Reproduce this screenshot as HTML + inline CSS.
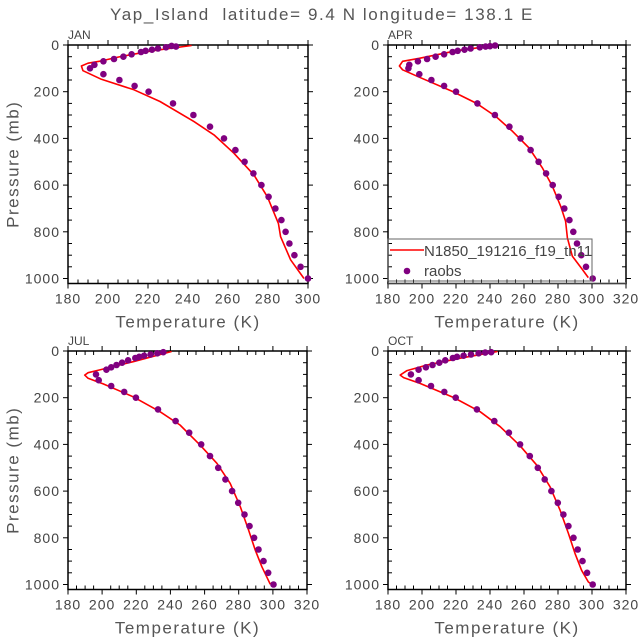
<!DOCTYPE html>
<html><head><meta charset="utf-8"><style>
html,body{margin:0;padding:0;background:#fff;}
svg{display:block;font-family:"Liberation Sans",sans-serif;}
</style></head><body>
<svg id="s" width="643" height="640" xmlns="http://www.w3.org/2000/svg">
<text x="322" y="20" text-anchor="middle" font-size="17" letter-spacing="1.6" fill="#555" xml:space="preserve">Yap_Island  latitude= 9.4 N longitude= 138.1 E</text>
</svg>
<script>
const S=document.getElementById('s');let h='';
const panels=[
{n:'JAN',L:68,R:308,t0:180,t1:300,T:45,
 d:[[300,1000],[296.3,950],[293.2,900],[290.7,850],[288.8,800],[286.7,750],[283.7,700],[280.3,650],[276.7,600],[272.7,550],[268.3,500],[263.7,450],[258,400],[251,350],[242.7,300],[232.5,250],[220.3,200],[213.3,175],[205.7,150],[197.7,125],[191,100],[193.2,85],[197.7,70],[203,60],[207.7,50],[211.8,40],[216.5,30],[218.8,25],[222,20],[225,15],[229,10],[234,7],[231.8,4]],
 l:[[241.8,2],[222,25],[205,52],[196.7,68],[190,78],[186.7,90],[187.5,110],[196.7,147],[213,192],[226,242],[243,328],[253,385],[263,464],[273,557],[279.7,650],[285.2,764],[286.3,821],[291.3,920],[298,1000]]},
{n:'APR',L:388,R:626,t0:180,t1:320,T:45,leg:1,
 d:[[300.4,1000],[296.5,950],[293.7,900],[291.2,850],[289,800],[286.7,750],[283.7,700],[280.4,650],[276.9,600],[273,550],[268.6,500],[263.9,450],[258,400],[251.4,350],[242.9,300],[232.6,250],[220,200],[213,175],[205.5,150],[198.4,125],[192,100],[192.5,85],[197.6,70],[203,60],[208,50],[213,40],[218,30],[221,25],[225,20],[228.6,15],[234,10],[237.4,7],[240,5],[243,2]],
 l:[[244,1],[220,25],[198.4,57],[188.6,70],[186.7,90],[188.6,106],[198.4,138],[218,199],[231.8,249],[243.5,306],[253.3,370],[263,441],[270.9,527],[276.7,605],[281.6,691],[284.5,755],[285.5,826],[288.4,904],[294.3,961],[297.8,996]]},
{n:'JUL',L:68,R:307,t0:180,t1:320,T:351,
 d:[[300.4,1000],[297.3,950],[294.5,900],[291.6,850],[289,800],[286.3,750],[283.4,700],[279.7,650],[276.1,600],[272.2,550],[268,500],[263.2,450],[258,400],[251,350],[243,300],[232.7,250],[219.8,200],[212.9,175],[205.3,150],[198,125],[196.4,100],[202.5,80],[205.3,70],[208.4,60],[211.7,50],[215.2,40],[219.4,30],[221.7,25],[224.6,20],[228.4,15],[232.3,10],[235.8,5]],
 l:[[240.7,2],[218.2,46],[198.6,81],[191.8,93],[189.8,103],[191.8,117],[200.6,141],[218.2,196],[233.9,260],[245.6,317],[257.4,403],[267.2,481],[275,567],[280.9,667],[285.8,767],[289.7,853],[293.6,924],[298.5,999]]},
{n:'OCT',L:388,R:626,t0:180,t1:320,T:351,
 d:[[300.4,1000],[297.1,950],[294.4,900],[291.6,850],[289.1,800],[286.1,750],[283.2,700],[279.9,650],[276.1,600],[272.2,550],[268.1,500],[263.4,450],[257.7,400],[251.1,350],[242.5,300],[232.3,250],[219.8,200],[213.1,175],[205.3,150],[198,125],[193.5,100],[198,80],[202.3,70],[206.2,60],[210.2,50],[213.7,40],[218.2,30],[220.6,25],[224.5,20],[228.8,15],[233.3,10],[237.2,7],[240.7,5]],
 l:[[244.4,2],[222.5,31],[202.9,60],[191.2,84],[187.2,103],[189.2,114],[199,139],[218.6,199],[234.2,260],[246,324],[257.7,406],[267.5,489],[275.3,581],[281.2,681],[286.1,781],[290,867],[293.9,939],[297.8,989],[299.8,1000]]}
];
for(const P of panels){
 const ks=(P.R-P.L)/(P.t1-P.t0), ps=0.2335, B=P.T+238.5;
 const X=t=>P.L+(t-P.t0)*ks, Y=p=>P.T+p*ps;
 for(let t=P.t0;t<=P.t1;t+=5){const x=X(t).toFixed(1);
  if(t%20==0){h+=`<line x1="${x}" y1="${B}" x2="${x}" y2="${B+5}" stroke="#000"/><line x1="${x}" y1="${P.T}" x2="${x}" y2="${P.T-5}" stroke="#000"/>`;
   h+=`<text x="${x}" y="${B+20}" text-anchor="middle" font-size="14" letter-spacing="1" fill="#444">${t}</text>`;}
  else {h+=`<line x1="${x}" y1="${B}" x2="${x}" y2="${B-4}" stroke="#000"/><line x1="${x}" y1="${P.T}" x2="${x}" y2="${P.T+4}" stroke="#000"/>`;}
 }
 for(let p=0;p<=1000;p+=50){const y=Y(p).toFixed(1);
  if(p%200==0){h+=`<line x1="${P.L}" y1="${y}" x2="${P.L-5}" y2="${y}" stroke="#000"/><line x1="${P.R}" y1="${y}" x2="${P.R+5}" y2="${y}" stroke="#000"/>`;
   h+=`<text x="${P.L-8}" y="${(+y)+5}" text-anchor="end" font-size="14" letter-spacing="1" fill="#444">${p}</text>`;}
  else {h+=`<line x1="${P.L}" y1="${y}" x2="${P.L+4}" y2="${y}" stroke="#000"/><line x1="${P.R}" y1="${y}" x2="${P.R-4}" y2="${y}" stroke="#000"/>`;}
 }
 h+=`<rect x="${P.L}" y="${P.T}" width="${P.R-P.L}" height="${B-P.T}" fill="none" stroke="#000" stroke-width="1.5"/>`;
 h+=`<text x="${P.L}" y="${P.T-6}" font-size="12" fill="#444">${P.n}</text>`;
 h+=`<text x="${(P.L+P.R)/2}" y="${B+44}" text-anchor="middle" font-size="17" letter-spacing="1.5" fill="#555">Temperature (K)</text>`;
 if(P.L<100){const cy=(P.T+B)/2;h+=`<text x="14" y="${cy}" transform="rotate(-90 14 ${cy})" text-anchor="middle" dominant-baseline="middle" font-size="17" letter-spacing="1.5" fill="#555">Pressure (mb)</text>`;}
 h+=`<polyline fill="none" stroke="#f00" stroke-width="1.6" stroke-linejoin="round" points="${P.l.map(a=>X(a[0]).toFixed(1)+','+Y(a[1]).toFixed(1)).join(' ')}"/>`;
 for(const a of P.d)h+=`<circle cx="${X(a[0]).toFixed(1)}" cy="${Y(a[1]).toFixed(1)}" r="3.3" fill="#800080"/>`;
 if(P.leg){
  h+=`<rect x="388" y="239" width="204" height="42" fill="none" stroke="#666"/><line x1="388" y1="283" x2="626" y2="283" stroke="#888"/>`;
  h+=`<line x1="390" y1="250" x2="424" y2="250" stroke="#f00" stroke-width="1.6"/>`;
  h+=`<text x="424" y="256" font-size="15" fill="#444">N1850_191216_f19_tn11</text>`;
  h+=`<circle cx="407" cy="271" r="3.3" fill="#800080"/><text x="424" y="276" font-size="15" fill="#444">raobs</text>`;
 }
}
S.insertAdjacentHTML('beforeend',h);
</script>
</body></html>
